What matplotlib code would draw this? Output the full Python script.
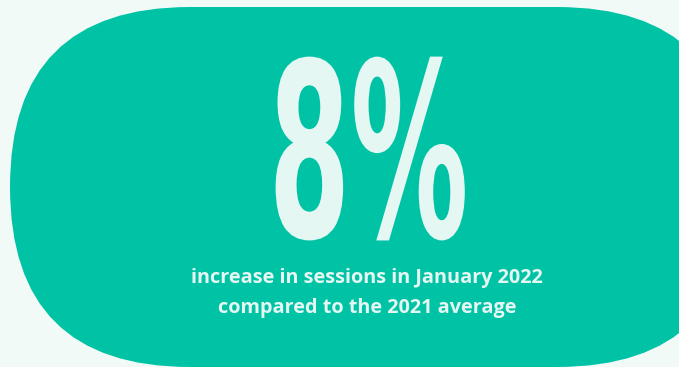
import matplotlib
matplotlib.use("Agg")
import matplotlib.pyplot as plt
from matplotlib.patches import FancyBboxPatch
from matplotlib.patheffects import AbstractPathEffect
from matplotlib.transforms import Affine2D

# figures shown on the card
big_value = "8%"
caption_lines = ["increase in sessions in January 2022",
                 "compared to the 2021 average"]

bg_color = "#f1faf7"
card_color = "#00c3a6"
text_color = "#e4f7f2"


class Squeeze(AbstractPathEffect):
    """Narrow the glyphs horizontally around a fixed x (display px)."""

    def __init__(self, sx, cx):
        super().__init__()
        self.sx = sx
        self.cx = cx

    def draw_path(self, renderer, gc, tpath, affine, rgbFace=None):
        t = affine + Affine2D().translate(-self.cx, 0).scale(self.sx, 1).translate(self.cx, 0)
        renderer.draw_path(gc, tpath, t, rgbFace)


W, H = 679, 367
fig = plt.figure(figsize=(W / 100, H / 100), dpi=100)
fig.patch.set_facecolor(bg_color)
ax = fig.add_axes([0, 0, 1, 1])
ax.set_xlim(0, W)
ax.set_ylim(H, 0)
ax.axis("off")

# pill-shaped card, runs off the right edge
card = FancyBboxPatch((10, 7), 727, 360, boxstyle="round,pad=0,rounding_size=180",
                      facecolor=card_color, edgecolor="none")
ax.add_patch(card)

cx = 368.5
ax.text(cx, 237, big_value, ha="center", va="baseline", fontsize=175,
        fontweight="bold", family="DejaVu Sans", color=text_color,
        path_effects=[Squeeze(0.485, cx)])

ax.text(367, 283, caption_lines[0], ha="center", va="baseline", fontsize=14.3,
        fontweight="bold", family="Open Sans", color=text_color)
ax.text(367, 313, caption_lines[1], ha="center", va="baseline", fontsize=14.3,
        fontweight="bold", family="Open Sans", color=text_color)

fig.savefig("out.png", dpi=100, facecolor=bg_color)
